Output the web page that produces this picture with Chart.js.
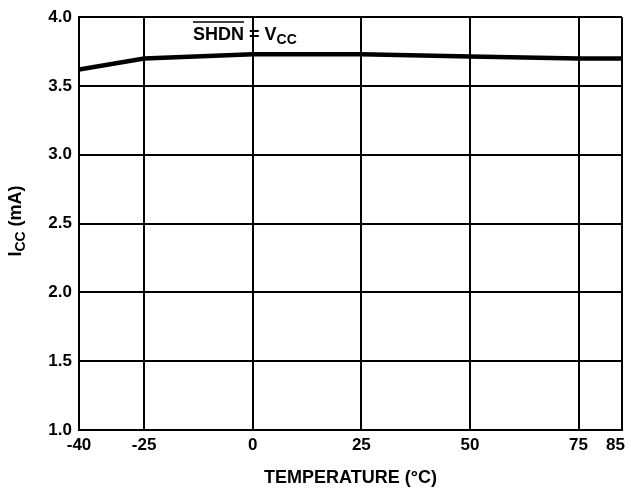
<!DOCTYPE html>
<html>
<head>
<meta charset="utf-8">
<script src="https://cdn.jsdelivr.net/npm/chart.js"></script>
<style>
  body { margin: 0; background: #fff; }
  #wrap { width: 631px; height: 489px; }
</style>
</head>
<body>
<div id="wrap"><canvas id="chartIcc" width="631" height="489"></canvas></div>
<script>
  // data
  const temps = [-40, -25, 0, 25, 50, 75, 85];
  const iccValues = [3.62, 3.70, 3.73, 3.73, 3.715, 3.70, 3.70];
  const xTicks = [-40, -25, 0, 25, 50, 75, 85];
  const yTicks = [1.0, 1.5, 2.0, 2.5, 3.0, 3.5, 4.0];

  const FONT = '"Liberation Sans", Arial, sans-serif';
  const lastX = xTicks[xTicks.length - 1];

  // draws the annotation, the y title (subscripts / overline) and the last x label flush right
  const labelsPlugin = {
    id: 'labels',
    afterDraw(chart) {
      const ctx = chart.ctx;
      ctx.save();
      ctx.fillStyle = '#000';
      ctx.strokeStyle = '#000';
      ctx.textBaseline = 'alphabetic';
      ctx.textAlign = 'left';

      // SHDN = VCC
      let x = 193, y = 40;
      ctx.font = 'bold 18px ' + FONT;
      const w1 = ctx.measureText('SHDN').width;
      ctx.fillText('SHDN', x, y);
      ctx.lineWidth = 1.5;
      ctx.beginPath();
      ctx.moveTo(x, 22);
      ctx.lineTo(x + w1, 22);
      ctx.stroke();
      x += w1;
      ctx.fillText(' = V', x, y);
      x += ctx.measureText(' = V').width;
      ctx.font = 'bold 14px ' + FONT;
      ctx.fillText('CC', x, y + 4);

      // last x tick label, right aligned on its grid line
      const xs = chart.scales.x;
      ctx.font = 'bold 17px ' + FONT;
      ctx.textAlign = 'right';
      ctx.textBaseline = 'middle';
      ctx.fillText(String(lastX), xs.getPixelForValue(lastX) + 3, xs.top + 15);
      ctx.textAlign = 'left';
      ctx.textBaseline = 'alphabetic';

      // ICC (mA), rotated
      ctx.translate(21, 221);
      ctx.rotate(-Math.PI / 2);
      ctx.font = 'bold 18px ' + FONT;
      const wI = ctx.measureText('I').width;
      ctx.font = 'bold 14px ' + FONT;
      const wCC = ctx.measureText('CC').width;
      ctx.font = 'bold 18px ' + FONT;
      const wRest = ctx.measureText(' (mA)').width;
      let tx = -(wI + wCC + wRest) / 2;
      ctx.fillText('I', tx, 0);
      tx += wI;
      ctx.font = 'bold 14px ' + FONT;
      ctx.fillText('CC', tx, 4);
      tx += wCC;
      ctx.font = 'bold 18px ' + FONT;
      ctx.fillText(' (mA)', tx, 0);
      ctx.restore();
    }
  };

  new Chart(document.getElementById('chartIcc'), {
    type: 'line',
    data: {
      datasets: [{
        data: temps.map((t, i) => ({ x: t, y: iccValues[i] })),
        borderColor: '#000',
        borderWidth: 4.5,
        pointRadius: 0,
        tension: 0,
        fill: false
      }]
    },
    options: {
      responsive: false,
      animation: false,
      layout: { padding: { top: 14, right: 0, left: 0, bottom: 0 } },
      plugins: {
        legend: { display: false },
        tooltip: { enabled: false }
      },
      scales: {
        x: {
          type: 'linear',
          min: -40,
          max: 85,
          afterBuildTicks: scale => { scale.ticks = xTicks.map(v => ({ value: v })); },
          afterFit: scale => {
            scale.height = 59;
            scale.paddingLeft = 0;
            scale.paddingRight = 9;
          },
          grid: { color: '#000', lineWidth: 2, drawTicks: false },
          border: { color: '#000', width: 2 },
          ticks: {
            padding: 5,
            color: '#000',
            font: { family: FONT, size: 17, weight: 'bold' },
            maxRotation: 0,
            autoSkip: false,
            callback: v => (v === lastX ? '' : String(v))
          },
          title: {
            display: true,
            text: 'TEMPERATURE (°C)',
            color: '#000',
            font: { family: FONT, size: 18, weight: 'bold' },
            padding: { top: 0, bottom: 0 }
          }
        },
        y: {
          min: 1,
          max: 4,
          afterBuildTicks: scale => { scale.ticks = yTicks.map(v => ({ value: v })); },
          afterFit: scale => { scale.width = 79; },
          grid: { color: '#000', lineWidth: 2, drawTicks: false },
          border: { color: '#000', width: 2 },
          ticks: {
            padding: 7,
            color: '#000',
            font: { family: FONT, size: 17, weight: 'bold' },
            callback: v => Number(v).toFixed(1)
          }
        }
      }
    },
    plugins: [labelsPlugin]
  });
</script>
</body>
</html>
